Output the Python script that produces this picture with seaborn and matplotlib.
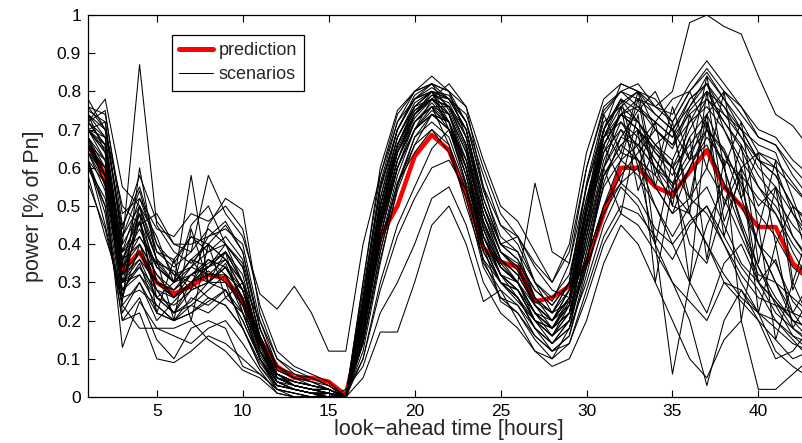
import numpy as np
import pandas as pd
import matplotlib
matplotlib.use("Agg")
import matplotlib.pyplot as plt
import seaborn as sns
from matplotlib.lines import Line2D

sns.set_theme(style="white")
plt.rcParams['font.family'] = ['Liberation Sans', 'DejaVu Sans']

hours = list(range(1, 44))

prediction = [0.66, 0.58, 0.33, 0.38, 0.30, 0.27, 0.29, 0.32, 0.31, 0.25, 0.15, 0.08, 0.05,
              0.05, 0.04, 0.005, 0.20, 0.42, 0.50, 0.63, 0.686, 0.646, 0.53, 0.39, 0.354, 0.34,
              0.25, 0.26, 0.29, 0.35, 0.48, 0.60, 0.60, 0.55, 0.53, 0.59, 0.646, 0.55, 0.50,
              0.445, 0.445, 0.35, 0.31]

s01 = [0.72, 0.75, 0.45, 0.55, 0.40, 0.35, 0.42, 0.38, 0.40, 0.35, 0.15, 0.05, 0.03, 0.02, 0.01, 0.00, 0.25, 0.55, 0.70, 0.78, 0.82, 0.75, 0.65, 0.45, 0.35, 0.30, 0.22, 0.20, 0.28, 0.50, 0.70, 0.78, 0.75, 0.72, 0.68, 0.78, 0.82, 0.70, 0.60, 0.50, 0.55, 0.42, 0.35]
s02 = [0.65, 0.60, 0.30, 0.38, 0.28, 0.22, 0.25, 0.30, 0.28, 0.20, 0.10, 0.04, 0.02, 0.01, 0.00, 0.00, 0.18, 0.45, 0.62, 0.74, 0.80, 0.78, 0.70, 0.50, 0.38, 0.33, 0.25, 0.22, 0.30, 0.55, 0.72, 0.76, 0.80, 0.70, 0.65, 0.75, 0.80, 0.72, 0.65, 0.55, 0.48, 0.38, 0.30]
s03 = [0.75, 0.72, 0.40, 0.87, 0.45, 0.38, 0.35, 0.40, 0.45, 0.38, 0.18, 0.08, 0.05, 0.04, 0.02, 0.00, 0.30, 0.60, 0.75, 0.80, 0.84, 0.80, 0.72, 0.55, 0.40, 0.38, 0.30, 0.25, 0.35, 0.60, 0.75, 0.80, 0.78, 0.76, 0.80, 0.98, 1.00, 0.97, 0.95, 0.84, 0.74, 0.71, 0.65]
s04 = [0.60, 0.50, 0.20, 0.26, 0.15, 0.10, 0.18, 0.20, 0.18, 0.08, 0.06, 0.02, 0.00, 0.00, 0.00, 0.01, 0.10, 0.30, 0.45, 0.55, 0.65, 0.70, 0.60, 0.40, 0.25, 0.22, 0.15, 0.10, 0.18, 0.30, 0.45, 0.55, 0.50, 0.40, 0.30, 0.25, 0.20, 0.30, 0.25, 0.20, 0.15, 0.10, 0.12]
s05 = [0.70, 0.65, 0.35, 0.50, 0.42, 0.30, 0.45, 0.50, 0.40, 0.30, 0.20, 0.10, 0.07, 0.05, 0.03, 0.00, 0.22, 0.50, 0.68, 0.76, 0.80, 0.72, 0.55, 0.40, 0.30, 0.28, 0.20, 0.18, 0.25, 0.45, 0.70, 0.62, 0.78, 0.55, 0.72, 0.48, 0.80, 0.50, 0.66, 0.35, 0.55, 0.28, 0.40]
s06 = [0.68, 0.55, 0.13, 0.25, 0.18, 0.18, 0.20, 0.15, 0.12, 0.07, 0.05, 0.01, 0.00, 0.00, 0.01, 0.00, 0.05, 0.17, 0.17, 0.30, 0.45, 0.50, 0.40, 0.25, 0.28, 0.20, 0.12, 0.08, 0.10, 0.20, 0.35, 0.45, 0.40, 0.30, 0.20, 0.10, 0.05, 0.15, 0.20, 0.02, 0.02, 0.06, 0.10]
s07 = [0.62, 0.45, 0.25, 0.60, 0.35, 0.30, 0.58, 0.30, 0.35, 0.25, 0.12, 0.06, 0.03, 0.02, 0.02, 0.00, 0.15, 0.42, 0.60, 0.70, 0.78, 0.82, 0.76, 0.55, 0.45, 0.40, 0.30, 0.26, 0.32, 0.52, 0.68, 0.72, 0.65, 0.55, 0.48, 0.60, 0.70, 0.65, 0.55, 0.40, 0.35, 0.25, 0.20]
s08 = [0.78, 0.70, 0.50, 0.45, 0.48, 0.40, 0.38, 0.58, 0.48, 0.42, 0.27, 0.23, 0.29, 0.22, 0.12, 0.12, 0.40, 0.58, 0.72, 0.78, 0.80, 0.74, 0.60, 0.42, 0.34, 0.30, 0.56, 0.38, 0.35, 0.55, 0.70, 0.82, 0.80, 0.78, 0.72, 0.80, 0.85, 0.78, 0.70, 0.62, 0.58, 0.50, 0.45]
s09 = [0.58, 0.42, 0.28, 0.35, 0.22, 0.20, 0.22, 0.25, 0.28, 0.20, 0.10, 0.02, 0.01, 0.00, 0.00, 0.00, 0.12, 0.35, 0.55, 0.68, 0.72, 0.68, 0.55, 0.35, 0.28, 0.24, 0.18, 0.14, 0.20, 0.38, 0.55, 0.62, 0.58, 0.50, 0.42, 0.50, 0.55, 0.45, 0.35, 0.30, 0.22, 0.18, 0.15]
s10 = [0.72, 0.78, 0.55, 0.50, 0.30, 0.28, 0.32, 0.35, 0.38, 0.30, 0.14, 0.05, 0.04, 0.03, 0.02, 0.00, 0.25, 0.48, 0.66, 0.75, 0.78, 0.76, 0.70, 0.50, 0.40, 0.42, 0.30, 0.22, 0.25, 0.42, 0.60, 0.68, 0.75, 0.80, 0.70, 0.62, 0.74, 0.80, 0.76, 0.68, 0.66, 0.60, 0.55]
s11 = [0.66, 0.62, 0.22, 0.30, 0.20, 0.25, 0.30, 0.33, 0.30, 0.18, 0.08, 0.03, 0.02, 0.01, 0.00, 0.00, 0.20, 0.45, 0.60, 0.72, 0.76, 0.70, 0.62, 0.48, 0.36, 0.30, 0.22, 0.16, 0.20, 0.35, 0.58, 0.66, 0.70, 0.60, 0.50, 0.48, 0.40, 0.30, 0.28, 0.20, 0.10, 0.12, 0.18]
s12 = [0.74, 0.68, 0.38, 0.42, 0.35, 0.33, 0.28, 0.45, 0.52, 0.49, 0.22, 0.10, 0.06, 0.04, 0.03, 0.00, 0.28, 0.55, 0.70, 0.79, 0.82, 0.80, 0.68, 0.48, 0.38, 0.35, 0.28, 0.24, 0.30, 0.50, 0.66, 0.74, 0.70, 0.65, 0.60, 0.70, 0.78, 0.72, 0.66, 0.58, 0.52, 0.45, 0.40]
s13 = [0.64, 0.58, 0.32, 0.48, 0.22, 0.36, 0.20, 0.40, 0.26, 0.30, 0.12, 0.05, 0.03, 0.02, 0.01, 0.00, 0.18, 0.40, 0.58, 0.70, 0.74, 0.72, 0.58, 0.38, 0.30, 0.28, 0.20, 0.16, 0.22, 0.42, 0.66, 0.56, 0.74, 0.40, 0.62, 0.30, 0.72, 0.42, 0.60, 0.22, 0.40, 0.18, 0.26]
s14 = [0.70, 0.72, 0.42, 0.54, 0.38, 0.36, 0.42, 0.40, 0.36, 0.28, 0.16, 0.06, 0.04, 0.03, 0.02, 0.00, 0.22, 0.52, 0.70, 0.78, 0.80, 0.70, 0.56, 0.42, 0.32, 0.30, 0.24, 0.20, 0.26, 0.48, 0.68, 0.76, 0.72, 0.66, 0.62, 0.72, 0.80, 0.76, 0.68, 0.60, 0.55, 0.48, 0.42]
s15 = [0.56, 0.44, 0.24, 0.18, 0.18, 0.16, 0.14, 0.18, 0.20, 0.14, 0.07, 0.01, 0.00, 0.00, 0.00, 0.02, 0.08, 0.22, 0.30, 0.40, 0.52, 0.55, 0.45, 0.30, 0.22, 0.18, 0.12, 0.10, 0.14, 0.28, 0.42, 0.50, 0.48, 0.42, 0.36, 0.45, 0.50, 0.40, 0.30, 0.22, 0.18, 0.14, 0.12]
s16 = [0.76, 0.74, 0.48, 0.52, 0.44, 0.42, 0.48, 0.46, 0.50, 0.44, 0.24, 0.12, 0.08, 0.06, 0.04, 0.00, 0.30, 0.58, 0.74, 0.80, 0.82, 0.78, 0.72, 0.58, 0.45, 0.42, 0.35, 0.30, 0.38, 0.60, 0.76, 0.80, 0.82, 0.76, 0.74, 0.82, 0.88, 0.82, 0.76, 0.70, 0.68, 0.62, 0.58]
s17 = [0.68, 0.60, 0.34, 0.46, 0.26, 0.30, 0.36, 0.30, 0.34, 0.26, 0.12, 0.04, 0.02, 0.01, 0.01, 0.00, 0.16, 0.44, 0.62, 0.72, 0.76, 0.66, 0.50, 0.36, 0.30, 0.25, 0.20, 0.18, 0.24, 0.46, 0.64, 0.70, 0.62, 0.50, 0.40, 0.30, 0.22, 0.35, 0.40, 0.30, 0.25, 0.20, 0.18]
s18 = [0.60, 0.52, 0.26, 0.28, 0.24, 0.20, 0.24, 0.22, 0.26, 0.22, 0.10, 0.03, 0.02, 0.01, 0.00, 0.00, 0.14, 0.38, 0.56, 0.66, 0.70, 0.64, 0.52, 0.34, 0.26, 0.22, 0.16, 0.12, 0.16, 0.34, 0.60, 0.48, 0.70, 0.30, 0.55, 0.68, 0.36, 0.62, 0.20, 0.45, 0.15, 0.30, 0.20]
s19 = [0.72, 0.66, 0.36, 0.48, 0.36, 0.32, 0.34, 0.38, 0.42, 0.36, 0.18, 0.07, 0.05, 0.03, 0.02, 0.00, 0.24, 0.50, 0.66, 0.76, 0.80, 0.78, 0.74, 0.60, 0.48, 0.42, 0.34, 0.28, 0.26, 0.36, 0.50, 0.58, 0.64, 0.70, 0.66, 0.72, 0.76, 0.70, 0.62, 0.55, 0.50, 0.42, 0.36]
s20 = [0.62, 0.48, 0.20, 0.22, 0.10, 0.09, 0.12, 0.16, 0.14, 0.10, 0.06, 0.02, 0.01, 0.00, 0.00, 0.00, 0.10, 0.28, 0.42, 0.52, 0.60, 0.62, 0.54, 0.38, 0.30, 0.26, 0.20, 0.16, 0.20, 0.34, 0.48, 0.56, 0.52, 0.44, 0.40, 0.46, 0.50, 0.42, 0.34, 0.28, 0.20, 0.15, 0.10]
s21 = [0.74, 0.70, 0.44, 0.58, 0.46, 0.40, 0.40, 0.42, 0.44, 0.40, 0.20, 0.08, 0.06, 0.05, 0.03, 0.00, 0.26, 0.56, 0.72, 0.80, 0.82, 0.80, 0.76, 0.62, 0.50, 0.46, 0.38, 0.30, 0.40, 0.64, 0.78, 0.82, 0.80, 0.74, 0.70, 0.76, 0.82, 0.74, 0.68, 0.62, 0.60, 0.55, 0.50]
s22 = [0.66, 0.56, 0.30, 0.34, 0.28, 0.26, 0.30, 0.26, 0.24, 0.18, 0.09, 0.03, 0.02, 0.01, 0.00, 0.01, 0.14, 0.36, 0.54, 0.66, 0.74, 0.72, 0.60, 0.40, 0.32, 0.26, 0.18, 0.14, 0.18, 0.38, 0.58, 0.66, 0.62, 0.55, 0.48, 0.52, 0.48, 0.40, 0.32, 0.26, 0.24, 0.22, 0.20]
s23 = [0.70, 0.64, 0.26, 0.50, 0.36, 0.20, 0.44, 0.30, 0.38, 0.22, 0.14, 0.06, 0.03, 0.02, 0.02, 0.00, 0.20, 0.48, 0.64, 0.74, 0.78, 0.74, 0.64, 0.46, 0.36, 0.32, 0.24, 0.20, 0.28, 0.48, 0.66, 0.74, 0.70, 0.62, 0.56, 0.64, 0.70, 0.64, 0.56, 0.48, 0.42, 0.34, 0.30]
s24 = [0.64, 0.54, 0.28, 0.32, 0.26, 0.22, 0.24, 0.28, 0.32, 0.28, 0.12, 0.05, 0.03, 0.02, 0.01, 0.00, 0.17, 0.42, 0.60, 0.70, 0.76, 0.76, 0.66, 0.46, 0.34, 0.30, 0.22, 0.18, 0.22, 0.40, 0.58, 0.64, 0.62, 0.58, 0.52, 0.60, 0.68, 0.62, 0.58, 0.52, 0.48, 0.40, 0.34]
s25 = [0.70, 0.62, 0.32, 0.36, 0.30, 0.28, 0.34, 0.32, 0.36, 0.30, 0.14, 0.05, 0.03, 0.02, 0.01, 0.00, 0.20, 0.46, 0.64, 0.72, 0.76, 0.72, 0.60, 0.42, 0.32, 0.28, 0.22, 0.18, 0.22, 0.36, 0.50, 0.56, 0.60, 0.40, 0.06, 0.30, 0.45, 0.55, 0.50, 0.40, 0.30, 0.20, 0.15]
s26 = [0.66, 0.58, 0.30, 0.36, 0.26, 0.24, 0.28, 0.30, 0.34, 0.26, 0.12, 0.04, 0.02, 0.01, 0.01, 0.00, 0.18, 0.44, 0.60, 0.70, 0.74, 0.70, 0.58, 0.40, 0.30, 0.26, 0.18, 0.12, 0.14, 0.26, 0.40, 0.48, 0.45, 0.38, 0.30, 0.20, 0.03, 0.20, 0.28, 0.22, 0.12, 0.08, 0.05]
s27 = [0.62, 0.56, 0.34, 0.40, 0.32, 0.26, 0.30, 0.32, 0.32, 0.22, 0.10, 0.04, 0.02, 0.01, 0.01, 0.00, 0.16, 0.40, 0.56, 0.64, 0.70, 0.66, 0.54, 0.36, 0.26, 0.24, 0.16, 0.12, 0.16, 0.32, 0.50, 0.62, 0.66, 0.72, 0.78, 0.80, 0.70, 0.60, 0.45, 0.30, 0.25, 0.18, 0.14]
s28 = [0.76, 0.70, 0.42, 0.50, 0.38, 0.34, 0.38, 0.44, 0.40, 0.34, 0.16, 0.06, 0.04, 0.03, 0.02, 0.00, 0.26, 0.54, 0.70, 0.78, 0.81, 0.78, 0.70, 0.52, 0.40, 0.36, 0.28, 0.24, 0.30, 0.56, 0.74, 0.80, 0.76, 0.70, 0.66, 0.76, 0.84, 0.78, 0.72, 0.64, 0.62, 0.56, 0.50]
s29 = [0.68, 0.62, 0.36, 0.44, 0.34, 0.30, 0.36, 0.34, 0.38, 0.32, 0.14, 0.05, 0.03, 0.02, 0.02, 0.00, 0.22, 0.50, 0.66, 0.76, 0.80, 0.76, 0.66, 0.46, 0.36, 0.32, 0.24, 0.20, 0.26, 0.50, 0.74, 0.64, 0.80, 0.58, 0.76, 0.62, 0.84, 0.60, 0.72, 0.44, 0.62, 0.30, 0.44]
s30 = [0.72, 0.66, 0.26, 0.40, 0.28, 0.22, 0.30, 0.36, 0.32, 0.24, 0.10, 0.03, 0.02, 0.01, 0.00, 0.00, 0.20, 0.46, 0.64, 0.74, 0.78, 0.74, 0.62, 0.42, 0.32, 0.28, 0.20, 0.16, 0.24, 0.48, 0.70, 0.78, 0.72, 0.64, 0.58, 0.68, 0.74, 0.64, 0.52, 0.40, 0.30, 0.22, 0.16]
s31 = [0.64, 0.60, 0.38, 0.52, 0.40, 0.32, 0.30, 0.34, 0.40, 0.34, 0.16, 0.06, 0.04, 0.03, 0.02, 0.00, 0.24, 0.52, 0.68, 0.76, 0.78, 0.72, 0.60, 0.44, 0.34, 0.30, 0.22, 0.18, 0.24, 0.46, 0.66, 0.74, 0.78, 0.74, 0.70, 0.78, 0.82, 0.76, 0.70, 0.66, 0.64, 0.52, 0.40]
s32 = [0.70, 0.68, 0.30, 0.32, 0.24, 0.20, 0.26, 0.24, 0.28, 0.22, 0.10, 0.03, 0.02, 0.01, 0.01, 0.00, 0.18, 0.44, 0.62, 0.72, 0.76, 0.74, 0.64, 0.44, 0.34, 0.30, 0.20, 0.14, 0.20, 0.42, 0.62, 0.72, 0.68, 0.62, 0.55, 0.62, 0.66, 0.56, 0.44, 0.34, 0.24, 0.16, 0.12]
s33 = [0.74, 0.64, 0.40, 0.48, 0.36, 0.30, 0.34, 0.42, 0.46, 0.38, 0.18, 0.07, 0.05, 0.04, 0.02, 0.00, 0.24, 0.50, 0.68, 0.77, 0.80, 0.79, 0.72, 0.54, 0.42, 0.38, 0.26, 0.22, 0.30, 0.52, 0.70, 0.77, 0.80, 0.76, 0.72, 0.80, 0.86, 0.80, 0.74, 0.68, 0.66, 0.58, 0.52]
s34 = [0.62, 0.50, 0.24, 0.30, 0.22, 0.20, 0.22, 0.26, 0.24, 0.18, 0.08, 0.02, 0.01, 0.00, 0.00, 0.00, 0.14, 0.38, 0.56, 0.68, 0.74, 0.70, 0.58, 0.40, 0.30, 0.26, 0.18, 0.14, 0.18, 0.36, 0.56, 0.68, 0.66, 0.60, 0.54, 0.48, 0.40, 0.32, 0.26, 0.22, 0.20, 0.16, 0.14]
s35 = [0.70, 0.64, 0.34, 0.42, 0.34, 0.30, 0.32, 0.30, 0.34, 0.28, 0.12, 0.04, 0.03, 0.02, 0.01, 0.00, 0.20, 0.48, 0.66, 0.74, 0.78, 0.76, 0.66, 0.48, 0.36, 0.32, 0.24, 0.20, 0.24, 0.44, 0.68, 0.78, 0.60, 0.72, 0.50, 0.74, 0.60, 0.80, 0.52, 0.64, 0.40, 0.50, 0.34]
s36 = [0.66, 0.60, 0.32, 0.38, 0.30, 0.26, 0.32, 0.34, 0.36, 0.28, 0.14, 0.05, 0.03, 0.02, 0.01, 0.00, 0.20, 0.46, 0.62, 0.72, 0.77, 0.72, 0.60, 0.42, 0.34, 0.30, 0.22, 0.18, 0.22, 0.40, 0.60, 0.70, 0.66, 0.60, 0.56, 0.40, 0.35, 0.50, 0.60, 0.64, 0.60, 0.48, 0.40]
s37 = [0.68, 0.58, 0.30, 0.46, 0.30, 0.26, 0.30, 0.34, 0.38, 0.30, 0.13, 0.05, 0.03, 0.02, 0.01, 0.00, 0.21, 0.47, 0.64, 0.73, 0.78, 0.76, 0.68, 0.50, 0.38, 0.34, 0.24, 0.18, 0.26, 0.50, 0.68, 0.74, 0.70, 0.64, 0.60, 0.66, 0.72, 0.60, 0.46, 0.34, 0.26, 0.20, 0.18]
s38 = [0.72, 0.68, 0.38, 0.46, 0.34, 0.30, 0.36, 0.40, 0.36, 0.30, 0.15, 0.06, 0.04, 0.03, 0.02, 0.00, 0.23, 0.50, 0.66, 0.75, 0.79, 0.77, 0.68, 0.50, 0.38, 0.34, 0.26, 0.22, 0.28, 0.50, 0.60, 0.76, 0.54, 0.66, 0.70, 0.52, 0.74, 0.46, 0.58, 0.30, 0.36, 0.22, 0.30]
s39 = [0.64, 0.56, 0.28, 0.34, 0.26, 0.22, 0.28, 0.30, 0.30, 0.24, 0.11, 0.04, 0.02, 0.01, 0.01, 0.00, 0.17, 0.42, 0.60, 0.70, 0.75, 0.72, 0.62, 0.44, 0.32, 0.28, 0.20, 0.16, 0.22, 0.44, 0.64, 0.74, 0.72, 0.66, 0.60, 0.52, 0.60, 0.52, 0.42, 0.32, 0.30, 0.26, 0.22]
s40 = [0.70, 0.66, 0.36, 0.40, 0.32, 0.28, 0.32, 0.36, 0.34, 0.26, 0.12, 0.05, 0.03, 0.02, 0.01, 0.00, 0.22, 0.48, 0.65, 0.74, 0.79, 0.78, 0.70, 0.52, 0.40, 0.36, 0.26, 0.20, 0.26, 0.46, 0.66, 0.74, 0.76, 0.72, 0.68, 0.74, 0.78, 0.74, 0.70, 0.62, 0.58, 0.50, 0.46]

scenarios = [s01, s02, s03, s04, s05, s06, s07, s08, s09, s10, s11, s12, s13, s14,
             s15, s16, s17, s18, s19, s20, s21, s22, s23, s24, s25, s26, s27, s28,
             s29, s30, s31, s32, s33, s34, s35, s36, s37, s38, s39, s40]

rows = []
for k, s in enumerate(scenarios):
    for h, v in zip(hours, s):
        rows.append({'hour': h, 'power': v, 'scenario': k})
scen_df = pd.DataFrame(rows)
pred_df = pd.DataFrame({'hour': hours, 'power': prediction})

fig = plt.figure(figsize=(8.02, 4.43), dpi=100)
# right spine sits just past the image edge, as in the reference crop
ax = fig.add_axes([88 / 802, 46 / 443, 722 / 802, 382 / 443])

sns.lineplot(data=pred_df, x='hour', y='power', color='red', linewidth=3.2, ax=ax, zorder=1)
sns.lineplot(data=scen_df, x='hour', y='power', units='scenario', estimator=None,
             color='black', linewidth=0.75, ax=ax, zorder=2)

ax.set_xlim(1, 43)
ax.set_ylim(0, 1)
ax.set_xticks([5, 10, 15, 20, 25, 30, 35, 40])
ax.set_yticks(np.arange(0, 1.01, 0.1))
ax.set_yticklabels(['0', '0.1', '0.2', '0.3', '0.4', '0.5', '0.6', '0.7', '0.8', '0.9', '1'])
ax.tick_params(direction='in', length=5, width=0.8, top=True, right=True,
               bottom=True, left=True, labelsize=12.5, colors='black', pad=5)
for sp in ax.spines.values():
    sp.set_color('black')
    sp.set_linewidth(0.9)
ax.set_xlabel('look\u2212ahead time [hours]', fontsize=15.5, labelpad=0)
ax.set_ylabel('power [% of Pn]', fontsize=15.5, labelpad=9)
ax.grid(False)

handles = [Line2D([], [], color='red', linewidth=3.6),
           Line2D([], [], color='black', linewidth=0.75)]
leg = ax.legend(handles, ['prediction', 'scenarios'], loc='upper left',
                bbox_to_anchor=(0.116, 0.948), borderaxespad=0, fancybox=False,
                edgecolor='black', framealpha=1, fontsize=13, handlelength=1.9,
                handletextpad=0.3, labelspacing=0.4, borderpad=0.4)
leg.get_frame().set_linewidth(0.9)

fig.savefig('out.png', dpi=100)
